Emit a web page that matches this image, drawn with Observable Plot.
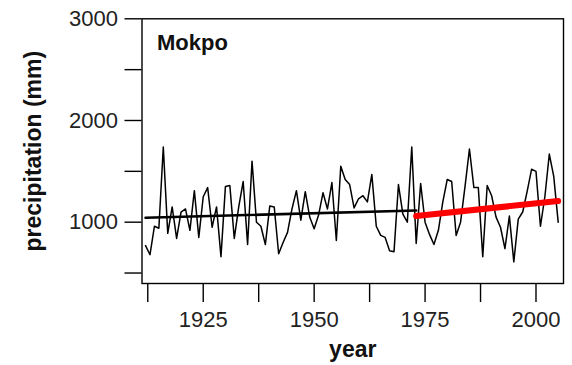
<!DOCTYPE html>
<html>
<head>
<meta charset="utf-8">
<script src="https://cdn.jsdelivr.net/npm/d3@7"></script>
<script src="https://cdn.jsdelivr.net/npm/@observablehq/plot@0.6"></script>
<style>
  html, body { margin: 0; padding: 0; background: #fff; }
  svg { display: block; }
</style>
</head>
<body>
<div id="chart"></div>
<script>
// ---- data ----
const startYear = 1912;
const precipitation = [
  770, 680, 960, 940, 1740, 890, 1150, 840, 1100, 1130,
  920, 1310, 850, 1250, 1340, 950, 1150, 660, 1350, 1360,
  840, 1150, 1400, 780, 1600, 1000, 960, 780, 1160, 1150,
  690, 800, 900, 1130, 1310, 1020, 1300, 1050, 935, 1070,
  1290, 1130, 1390, 820, 1550, 1420, 1370, 1140, 1230, 1260,
  1200, 1470, 960, 870, 850, 720, 710, 1370, 1080, 1000,
  1740, 790, 1380, 1000, 880, 780, 920, 1200, 1420, 1400,
  870, 1000, 1350, 1720, 1340, 1340, 660, 1360, 1260, 1050,
  950, 740, 1060, 610, 1030, 1100, 1300, 1520, 1500, 960,
  1250, 1670, 1450, 1000
];
const trendEarlyYears = [1912, 1973];
const trendEarlyValues = [1043, 1115];
const trendLateYears = [1973, 2005];
const trendLateValues = [1060, 1208];
const xTicks = [1912.5, 1925, 1937.5, 1950, 1962.5, 1975, 1987.5, 2000];
const xTickLabels = {1925: "1925", 1950: "1950", 1975: "1975", 2000: "2000"};
const yTicks = [500, 1000, 1500, 2000, 2500, 3000];
const yTickLabels = {1000: "1000", 2000: "2000", 3000: "3000"};
const stationName = "Mokpo";

const series = precipitation.map((v, i) => ({year: startYear + i, value: v}));
const early = trendEarlyYears.map((y, i) => ({year: y, value: trendEarlyValues[i]}));
const late = trendLateYears.map((y, i) => ({year: y, value: trendLateValues[i]}));

const font = "'Liberation Sans', Arial, Helvetica, sans-serif";

const chart = Plot.plot({
  width: 572,
  height: 365,
  marginLeft: 141.5,
  marginRight: 9,
  marginTop: 18.3,
  marginBottom: 82,
  style: {fontFamily: font, color: "#000", background: "#fff", overflow: "visible"},
  x: {domain: [1911.2, 2006.2]},
  y: {domain: [397, 3000]},
  marks: [
    Plot.axisX({ticks: xTicks, tickFormat: d => xTickLabels[d] ?? "", tickSize: 19, tickPadding: 9,
      fontSize: 22, label: null, strokeWidth: 1.4, fill: "#222"}),
    Plot.axisY({ticks: yTicks, tickFormat: d => yTickLabels[d] ?? "", tickSize: 17, tickPadding: 7,
      fontSize: 22, label: null, strokeWidth: 1.4, fill: "#222"}),
    Plot.frame({stroke: "#000", strokeWidth: 1.4}),
    Plot.line(series, {x: "year", y: "value", stroke: "#000", strokeWidth: 1.5}),
    Plot.line(early, {x: "year", y: "value", stroke: "#000", strokeWidth: 2.6}),
    Plot.line(late, {x: "year", y: "value", stroke: "#ff0000", strokeWidth: 6}),
    Plot.text([stationName], {frameAnchor: "top-left", dx: 15, dy: 16, text: d => d,
      textAnchor: "start", lineAnchor: "top", fontSize: 22, fontWeight: "bold", fill: "#111"}),
    Plot.text(["precipitation (mm)"], {frameAnchor: "left", dx: -108, text: d => d, rotate: -90,
      textAnchor: "middle", lineAnchor: "middle",
      fontSize: 23, fontWeight: "bold", fill: "#111"}),
    Plot.text(["year"], {frameAnchor: "bottom", dy: 73, text: d => d,
      fontSize: 23, fontWeight: "bold", fill: "#111"})
  ]
});
document.getElementById("chart").appendChild(chart);
</script>
</body>
</html>
